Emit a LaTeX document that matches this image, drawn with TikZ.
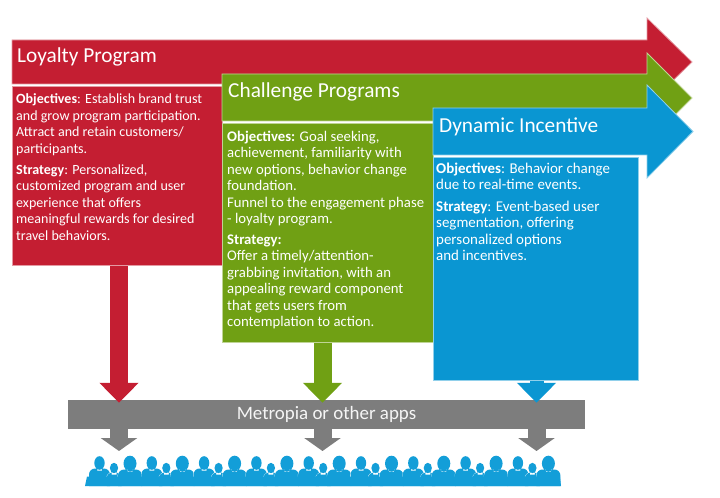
\documentclass[tikz,border=0pt]{standalone}
\usepackage{fontspec}
\setmainfont{Carlito}
\usetikzlibrary{arrows.meta}
\definecolor{lpred}{HTML}{C41E32}
\definecolor{cpgreen}{HTML}{70A014}
\definecolor{diblue}{HTML}{0A96D2}
\definecolor{appgray}{HTML}{7D7D7D}
\definecolor{crowdblue}{HTML}{139ED8}
% #1 centre x, #2 head centre y, #3 head rx, #4 head ry, #5 shoulder width, #6 shoulder top
\newcommand\crowdperson[6]{%
  \draw[white, line width=0.6bp] ({#1-#5/2},486) [rounded corners=6bp] -- ({#1-#5/2},#6) -- ({#1+#5/2},#6) [sharp corners] -- ({#1+#5/2},486)
     (#1,#2) ellipse[x radius=#3 bp, y radius=#4 bp];
  \fill[crowdblue] ({#1-#5/2},486) [rounded corners=6bp] -- ({#1-#5/2},#6) -- ({#1+#5/2},#6) [sharp corners] -- ({#1+#5/2},486) -- cycle
     (#1,#2) ellipse[x radius=#3 bp, y radius=#4 bp] ({#1-2.5},#2) rectangle ({#1+2.5},{#6+2});
}
\begin{document}
\begin{tikzpicture}[x=1bp,y=-1bp,
  bigarrow/.style={line width=0.8bp, line join=miter},
  bodybox/.style={draw=white!55!#1, fill=#1, line width=0.8bp, inner sep=0pt, anchor=north west},
  titletext/.style={text=white, font=\fontsize{21.4}{24}\selectfont, inner sep=0pt, anchor=base west},
  bodytext/.style={text=white, font=\fontsize{#1}{16.6}\selectfont, align=left, inner sep=0pt, anchor=north west},
  barbox/.style={fill=appgray, minimum width=516bp, minimum height=29bp, inner sep=0pt, text=white!92!appgray, font=\fontsize{19}{21}\selectfont},
  downarrow/.style={line width=18bp, -{Triangle[width=38bp,length=20bp]}},
  grayarrow/.style={appgray, line width=18bp, -{Triangle[width=36bp,length=13bp]}}
]
\useasboundingbox (0,0) rectangle (720,498);

% Loyalty Program
\filldraw[bigarrow, fill=lpred, draw=white!55!lpred] (12,40) -- (647,40) -- (647,18) -- (692,62) -- (647,106) -- (647,84) -- (12,84) -- cycle;
\node[bodybox=lpred, minimum width=210bp, minimum height=179bp] (lpbody) at (12,86) {};
\node[titletext] (lptitle) at (17,63) {Loyalty Program};
\node[bodytext=14.1] (lptext) at (16,93.5) {\textbf{Objectives}: Establish brand trust\\
and grow program participation.\\
Attract and retain customers/\\
participants.\\[4.5bp]
\textbf{Strategy}: Personalized,\\
customized program and user\\
experience that offers\\
meaningful rewards for desired\\
travel behaviors.};

% Challenge Programs
\filldraw[bigarrow, fill=cpgreen, draw=white!55!cpgreen] (222,74) -- (647,74) -- (647,53) -- (692,98) -- (647,143) -- (647,121) -- (222,121) -- cycle;
\node[bodybox=cpgreen, minimum width=211bp, minimum height=219bp] (cpbody) at (222,123) {};
\node[titletext] (cptitle) at (228,98) {Challenge Programs};
\node[bodytext=14.8] (cptext) at (227,130.5) {\textbf{Objectives:} Goal seeking,\\
achievement, familiarity with\\
new options, behavior change\\
foundation.\\
Funnel to the engagement phase\\
- loyalty program.\\[4bp]
\textbf{Strategy:}\\
Offer a timely/attention-\\
grabbing invitation, with an\\
appealing reward component\\
that gets users from\\
contemplation to action.};

% Dynamic Incentive
\filldraw[bigarrow, fill=diblue, draw=white!55!diblue] (433,108) -- (647,108) -- (647,85) -- (693,131.5) -- (647,178) -- (647,155) -- (433,155) -- cycle;
\node[bodybox=diblue, minimum width=205bp, minimum height=223bp] (dibody) at (433,157) {};
\node[titletext] (dititle) at (439,133) {Dynamic Incentive};
\node[bodytext=15] (ditext) at (436,162.5) {\textbf{Objectives}: Behavior change\\
due to real-time events.\\[5bp]
\textbf{Strategy}: Event-based user\\
segmentation, offering\\
personalized options\\
and incentives.};

% Apps bar
\node[barbox] (apps) at (326.5,414.5) {Metropia or other apps};
\coordinate (appstop) at ([yshift=-3bp]apps.north);

% down arrows into the bar
\coordinate (xr) at (119,0);
\coordinate (xg) at (322.5,0);
\coordinate (xb) at (536.5,0);
\draw[downarrow, lpred] (lpbody.south -| xr) -- (appstop -| xr);
\draw[downarrow, cpgreen] (cpbody.south -| xg) -- (appstop -| xg);
\draw[downarrow, diblue, line width=14bp] (dibody.south -| xb) -- (appstop -| xb);

% gray arrows to the crowd
\coordinate (c1) at (119,451);
\coordinate (c2) at (322.5,451);
\coordinate (c3) at (536.5,451);
\draw[grayarrow] (apps.south -| c1) -- (c1);
\draw[grayarrow] (apps.south -| c2) -- (c2);
\draw[grayarrow] (apps.south -| c3) -- (c3);

% crowd
\foreach \k in {0,...,8}{
  \pgfmathsetmacro\mx{99.5+52.3*\k}
  \pgfmathsetmacro\sx{114+52.3*\k}
  \pgfmathsetmacro\bx{130+52.3*\k}
  \crowdperson{\mx}{463}{5.2}{6.8}{21}{468.5}
  \crowdperson{\sx}{468}{4.1}{5.2}{15}{472.5}
  \crowdperson{\bx}{463.5}{6.5}{7.8}{24}{469.5}
}
\fill[crowdblue] (87,476.5) -- (560,476.5) -- (561,486) -- (85,486) -- cycle;
\end{tikzpicture}
\end{document}
